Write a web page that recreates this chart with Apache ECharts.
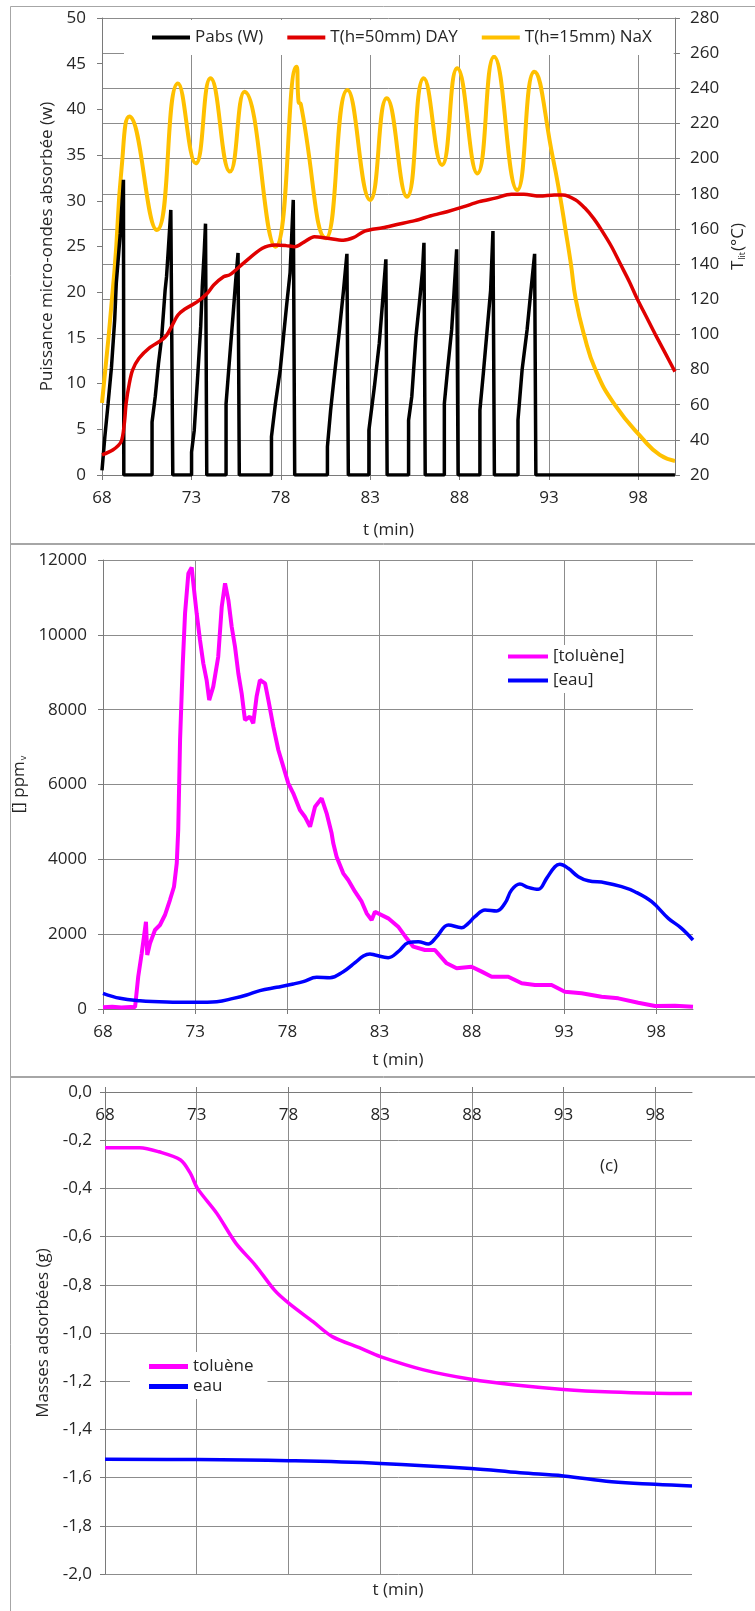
<!DOCTYPE html>
<html>
<head>
<meta charset="utf-8">
<script src="https://cdn.jsdelivr.net/npm/echarts@6/dist/echarts.min.js"></script>
<style>
html,body{margin:0;padding:0;background:#fff;}
#c{width:755px;height:1611px;}
</style>
</head>
<body>
<div id="c"></div>
<script>
// ---------- tick labels ----------
const tTicks = [68, 73, 78, 83, 88, 93, 98];

// ---------- Chart (a): absorbed power & temperatures ----------
const pabsT = [68.00,68.16,68.34,68.53,68.71,68.80,69.02,69.13,69.20,69.22,
  70.80,70.80,70.98,71.16,71.34,71.53,71.61,71.72,71.85,71.95,71.96,
  73.01,73.01,73.16,73.34,73.52,73.61,73.72,73.79,73.84,73.86,
  74.94,74.94,75.16,75.34,75.48,75.61,75.66,75.68,
  77.48,77.48,77.70,77.97,78.15,78.34,78.52,78.62,78.70,78.76,78.78,
  80.61,80.61,80.79,80.97,81.24,81.51,81.70,81.76,81.78,
  82.93,82.93,83.24,83.51,83.69,83.88,83.93,83.95,
  85.15,85.15,85.33,85.56,85.79,85.93,86.01,86.06,86.08,
  87.15,87.15,87.33,87.56,87.69,87.84,87.90,87.92,
  89.14,89.14,89.33,89.51,89.74,89.87,89.93,89.95,
  91.27,91.27,91.50,91.78,91.96,92.20,92.25,92.27,
  100.05];
const pabsV = [0.5,4.2,7.8,11.8,17.0,21.0,26.4,30.1,32.3,0,
  0,5.8,8.6,12.2,15.1,20.2,21.7,25.0,29.0,29.0,0,
  0,2.5,4.9,10.4,16.2,20.6,24.5,27.5,27.5,0,
  0,7.8,13.3,17.7,21.3,24.3,24.3,0,
  0,4.2,7.8,11.5,15.1,18.8,22.1,26.5,30.1,30.1,0,
  0,3.1,7.1,10.4,15.1,20.2,24.2,24.2,0,
  0,4.9,9.7,14.4,18.8,23.6,23.6,0,
  0,6.0,8.6,15.1,19.5,22.4,25.4,25.4,0,
  0,7.8,11.5,15.9,19.9,24.7,24.7,0,
  0,7.1,11.1,15.1,20.2,26.7,26.7,0,
  0,6.0,11.5,15.9,19.5,24.2,24.2,0,
  0];

const dayT = [68.0,68.6,69.07,69.25,69.35,69.53,69.71,70.07,70.62,71.34,71.62,71.89,72.25,72.62,73.34,73.89,74.25,74.8,75.16,75.9,76.97,77.7,78.3,78.79,79.3,79.88,80.6,81.5,82.06,82.7,83.7,84.5,85.5,86.4,87.3,88.2,89.1,90.0,90.9,91.6,92.5,93.3,93.78,94.5,95.0,95.5,95.9,96.5,97.0,97.5,97.95,98.45,98.95,99.5,100.05];
const dayV = [31.4,34.2,39,49.4,60.8,72.2,79.7,86.4,92.1,96.8,99.6,104.4,111,114.3,118.6,123.4,128.1,132.8,134,140.4,149,150.9,150.5,149.9,152.5,155.6,154.7,153.5,155,158.8,160.7,162.5,164.7,167.5,169.8,172.5,175.5,177.5,179.7,179.7,178.7,179.3,179.3,176.5,172,166,160,150,140,130,120,110,100,89.5,78.8];

const naxT = [68.0,68.7,69.1,69.53,71.07,72.25,73.25,74.07,75.16,75.97,77.70,78.88,79.0,79.12,80.52,81.73,83.0,83.93,85.06,86.0,87.02,87.87,89.0,89.93,91.23,92.18,93.23,93.6,93.92,94.23,94.5,94.96,95.6,96.68,98.3,99.2,100.05];
const naxV = [61,136.6,195,223.9,159.4,242.8,197.3,245.7,192.6,238.1,149.9,252.3,232,231,154.7,239,176.5,234.3,178.3,245.7,196.4,251.4,191.6,258,182.1,249.4,200,180,160,140,120,100,80,60,40,31.4,28];

// ---------- Chart (b): concentrations ----------
const tolT = [68.0,68.5,69.0,69.5,69.74,69.91,70.10,70.33,70.40,70.55,70.82,71.09,71.36,71.63,71.85,72.0,72.08,72.18,72.32,72.45,72.63,72.81,72.90,73.08,73.26,73.44,73.62,73.76,73.98,74.25,74.44,74.62,74.80,74.98,75.16,75.34,75.52,75.70,75.97,76.15,76.33,76.51,76.79,76.97,77.24,77.51,77.78,78.05,78.32,78.68,78.95,79.23,79.50,79.86,80.13,80.40,80.49,80.67,81.03,81.30,81.67,82.03,82.30,82.57,82.75,82.84,83.47,84.01,84.47,84.83,85.46,86.0,86.64,87.18,87.99,88.54,89.08,89.98,90.71,91.43,92.33,93.05,93.96,95.04,95.95,97.03,97.94,99.02,100.0];
const tolV = [45,60,40,55,50,863,1488,2333,1443,1755,2111,2245,2512,2913,3268,3894,4784,7189,9148,10574,11643,11803,11376,10574,9861,9238,8792,8257,8614,9415,10752,11376,10930,10217,9682,8970,8436,7723,7812,7635,8347,8792,8703,8257,7545,6921,6476,6031,5764,5318,5140,4872,5407,5630,5229,4695,4428,4070,3626,3447,3135,2868,2557,2378,2600,2557,2423,2200,1889,1666,1577,1577,1221,1087,1131,998,864,864,686,641,641,463,419,330,285,169,80,89,62];

const eauT = [68.0,68.92,70.0,71.45,73.03,74.17,75.07,75.79,76.51,77.42,78.32,78.86,79.59,80.31,81.03,81.67,82.12,82.48,82.75,83.47,84.01,84.56,85.10,85.64,86.10,86.73,87.45,87.81,88.17,88.72,89.35,89.80,90.16,90.61,91.06,91.61,92.06,92.51,92.78,93.23,93.78,94.32,95.22,96.13,96.85,97.76,98.66,99.38,100.0];
const eauV = [419,285,223,187,178,196,285,374,490,579,668,731,846,837,998,1238,1416,1470,1443,1372,1532,1773,1800,1737,1933,2245,2174,2290,2467,2646,2619,2824,3180,3340,3251,3198,3492,3803,3867,3760,3536,3429,3376,3269,3135,2868,2423,2156,1844];

// ---------- Chart (c): adsorbed masses ----------
const mTolT = [68.0,69.89,70.94,72.12,72.65,73.04,74.09,75.14,76.19,77.24,78.03,79.34,80.39,81.96,83.01,85.37,87.95,90.37,92.99,95.62,97.98,100.0];
const mTolV = [-0.231,-0.231,-0.248,-0.282,-0.337,-0.400,-0.503,-0.628,-0.718,-0.822,-0.877,-0.953,-1.015,-1.064,-1.098,-1.153,-1.192,-1.216,-1.234,-1.245,-1.250,-1.251];
const mEauT = [68.0,73.0,78.03,83.01,87.95,90.63,92.99,95.62,97.98,100.0];
const mEauV = [-1.524,-1.525,-1.530,-1.541,-1.562,-1.580,-1.593,-1.617,-1.628,-1.635];

// ---------- build ----------
const FONT = '"Open Sans", "Noto Sans", sans-serif';
const FS = 17;
const TXT = '#262626';
const GRIDC = '#8c8c8c';
const AXC = '#7a7a7a';
const zip = (a, b) => a.map((x, i) => [x, b[i]]);

function xAx(grid, max, extra) {
  return Object.assign({
    gridIndex: grid, type: 'value', min: 68, max: max,
    axisLine: { show: true, onZero: false, lineStyle: { color: AXC, width: 1 } },
    axisTick: { show: true, length: 5, customValues: tTicks, lineStyle: { color: AXC } },
    axisLabel: { customValues: tTicks, margin: 15, fontSize: FS, color: TXT, fontFamily: FONT },
    splitLine: { show: true, lineStyle: { color: GRIDC, width: 1 } },
    nameTextStyle: { fontSize: FS, color: TXT, fontFamily: FONT }
  }, extra || {});
}
function yAx(grid, min, max, interval, extra) {
  return Object.assign({
    gridIndex: grid, type: 'value', min: min, max: max, interval: interval,
    axisLine: { show: true, lineStyle: { color: AXC, width: 1 } },
    axisTick: { show: true, length: 5, lineStyle: { color: AXC } },
    axisLabel: { margin: 16, fontSize: FS, color: TXT, fontFamily: FONT, formatter: v => String(v) },
    splitLine: { show: true, lineStyle: { color: GRIDC, width: 1 } },
    nameLocation: 'middle',
    nameTextStyle: { fontSize: FS, color: TXT, fontFamily: FONT }
  }, extra || {});
}

const chart = echarts.init(document.getElementById('c'), null, { renderer: 'canvas', width: 755, height: 1611 });

const option = {
  animation: false,
  backgroundColor: '#ffffff',
  textStyle: { fontFamily: FONT },
  grid: [
    { left: 102, top: 18, width: 588, height: 457 },
    { left: 103, top: 560, width: 590, height: 449 },
    { left: 105, top: 1092, width: 587, height: 482 }
  ],
  xAxis: [
    xAx(0, 100.05, { name: 't (min)', nameLocation: 'middle', nameGap: 47 }),
    xAx(1, 100, { name: 't (min)', nameLocation: 'middle', nameGap: 43 }),
    xAx(2, 100, { position: 'top',
      axisLabel: { customValues: tTicks, inside: true, margin: 15, fontSize: FS, color: TXT, fontFamily: FONT } })
  ],
  yAxis: [
    yAx(0, 0, 50, 5, { splitLine: { show: false }, name: 'Puissance micro-ondes absorbée (w)', nameGap: 44 }),
    yAx(0, 20, 280, 20, { position: 'right', axisLabel: { margin: 15, fontSize: FS, color: TXT, fontFamily: FONT },
      name: 'T{s|lit}(°C)', nameGap: 50,
      nameTextStyle: { fontSize: FS, color: TXT, fontFamily: FONT,
        rich: { s: { fontSize: 9, color: TXT, fontFamily: FONT, verticalAlign: 'bottom', padding: [7, 1, 0, 1] } } } }),
    yAx(1, 0, 12000, 2000, { name: '[] ppm{s|v}', nameGap: 65,
      nameTextStyle: { fontSize: FS, color: TXT, fontFamily: FONT,
        rich: { s: { fontSize: 9, color: TXT, fontFamily: FONT, verticalAlign: 'bottom', padding: [8, 0, 0, 1] } } } }),
    yAx(2, -2, 0, 0.2, { name: 'Masses adsorbées (g)', nameGap: 52,
      axisLabel: { margin: 13, fontSize: FS, color: TXT, fontFamily: FONT,
        formatter: v => (Math.abs(v) < 1e-9 ? 0 : v).toFixed(1).replace('.', ',') } })
  ],
  legend: [
    { data: ['Pabs (W)', 'T(h=50mm) DAY', 'T(h=15mm) NaX'], left: 124, top: 20, orient: 'horizontal',
      icon: 'rect', itemWidth: 38, itemHeight: 4, itemGap: 24, padding: [9, 22, 9, 28],
      backgroundColor: '#ffffff', textStyle: { fontSize: FS, color: TXT, fontFamily: FONT } },
    { data: ['[toluène]', '[eau]'], left: 500, top: 645, orient: 'vertical',
      icon: 'rect', itemWidth: 40, itemHeight: 4, itemGap: 7, padding: [3, 12, 4, 8],
      backgroundColor: '#ffffff', textStyle: { fontSize: FS, color: TXT, fontFamily: FONT } },
    { data: ['toluène', 'eau'], left: 130, top: 1352, orient: 'vertical',
      icon: 'rect', itemWidth: 39, itemHeight: 5, itemGap: 3, padding: [6, 14, 4, 19],
      backgroundColor: '#ffffff', textStyle: { fontSize: FS, color: TXT, fontFamily: FONT } }
  ],
  graphic: [
    { type: 'rect', shape: { x: 10.5, y: 6.5, width: 760, height: 538 }, style: { fill: 'none', stroke: '#a6a6a6', lineWidth: 1 }, silent: true },
    { type: 'rect', shape: { x: 10.5, y: 543.5, width: 760, height: 534 }, style: { fill: 'none', stroke: '#a6a6a6', lineWidth: 1 }, silent: true },
    { type: 'rect', shape: { x: 10.5, y: 1076.5, width: 760, height: 560 }, style: { fill: 'none', stroke: '#a6a6a6', lineWidth: 1 }, silent: true },
    { type: 'text', x: 609, y: 1166, style: { text: '(c)', fontSize: FS, fontFamily: FONT, fill: TXT, align: 'center', verticalAlign: 'middle' } },
    { type: 'text', x: 398, y: 1590, style: { text: 't (min)', fontSize: FS, fontFamily: FONT, fill: TXT, align: 'center', verticalAlign: 'middle' } }
  ],
  series: [
    { name: 'Pabs (W)', type: 'line', xAxisIndex: 0, yAxisIndex: 0, data: zip(pabsT, pabsV),
      showSymbol: false, lineStyle: { color: '#000000', width: 3.5 }, itemStyle: { color: '#000000' }, z: 3 },
    { name: 'T(h=50mm) DAY', type: 'line', xAxisIndex: 0, yAxisIndex: 1, data: zip(dayT, dayV),
      smooth: 0.3, showSymbol: false, lineStyle: { color: '#e00000', width: 3.5 }, itemStyle: { color: '#e00000' }, z: 4 },
    { name: 'T(h=15mm) NaX', type: 'line', xAxisIndex: 0, yAxisIndex: 1, data: zip(naxT, naxV),
      smooth: 0.5, showSymbol: false, lineStyle: { color: '#ffc000', width: 4 }, itemStyle: { color: '#ffc000' }, z: 2 },
    { name: '[toluène]', type: 'line', xAxisIndex: 1, yAxisIndex: 2, data: zip(tolT, tolV),
      showSymbol: false, lineStyle: { color: '#ff00ff', width: 4 }, itemStyle: { color: '#ff00ff' } },
    { name: '[eau]', type: 'line', xAxisIndex: 1, yAxisIndex: 2, data: zip(eauT, eauV),
      smooth: 0.4, showSymbol: false, lineStyle: { color: '#0000ff', width: 3.5 }, itemStyle: { color: '#0000ff' } },
    { name: 'toluène', type: 'line', xAxisIndex: 2, yAxisIndex: 3, data: zip(mTolT, mTolV),
      smooth: 0.3, showSymbol: false, lineStyle: { color: '#ff00ff', width: 3.5 }, itemStyle: { color: '#ff00ff' } },
    { name: 'eau', type: 'line', xAxisIndex: 2, yAxisIndex: 3, data: zip(mEauT, mEauV),
      smooth: 0.4, showSymbol: false, lineStyle: { color: '#0000ff', width: 3.5 }, itemStyle: { color: '#0000ff' } }
  ]
};
chart.setOption(option);
</script>
</body>
</html>
